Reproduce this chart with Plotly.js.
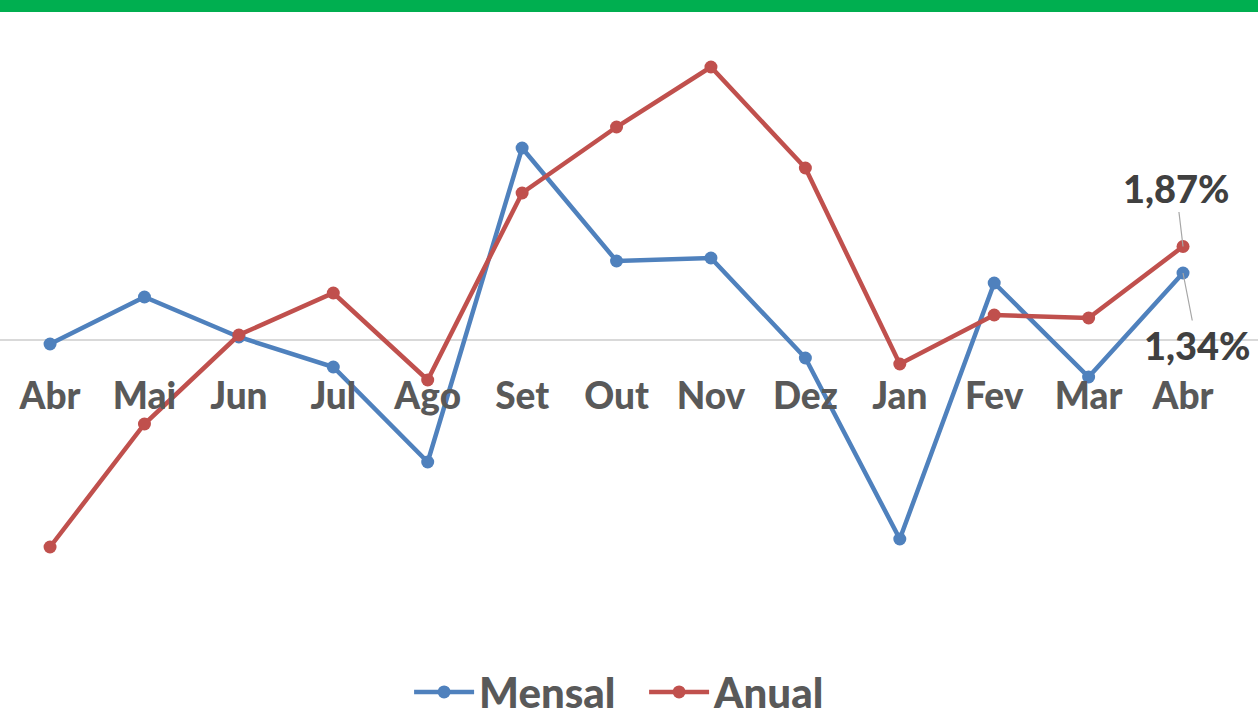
<!DOCTYPE html>
<html>
<head>
<meta charset="utf-8">
<script src="https://cdn.plot.ly/plotly-3.0.1.min.js"></script>
<style>html,body{margin:0;padding:0;background:#fff;}#chart{width:1258px;height:718px;}</style>
</head>
<body>
<div id="chart"></div>
<script>
const months = ["Abr","Mai","Jun","Jul","Ago","Set","Out","Nov","Dez","Jan","Fev","Mar","Abr"];
const mensal = [-0.08, 0.86, 0.06, -0.54, -2.44, 3.84, 1.58, 1.64, -0.36, -3.98, 1.14, -0.74, 1.34];
const anual  = [-4.14, -1.68, 0.10, 0.94, -0.80, 2.94, 4.26, 5.46, 3.44, -0.48, 0.50, 0.44, 1.87];

const idx = months.map((_, i) => i);
const last = months.length - 1;
const fmt = v => v.toFixed(2).replace('.', ',') + '%';

const BLUE = '#4F81BD', RED = '#C0504D';
const traces = [
  {x: idx, y: mensal, name: 'Mensal', type: 'scatter', mode: 'lines+markers',
   line: {color: BLUE, width: 4.5}, marker: {color: BLUE, size: 13}},
  {x: idx, y: anual, name: 'Anual', type: 'scatter', mode: 'lines+markers',
   line: {color: RED, width: 4.5}, marker: {color: RED, size: 13}}
];

const yMin = -7.56, yMax = 6.8;
const zeroPos = (0 - yMin) / (yMax - yMin);

const layout = {
  width: 1258, height: 718,
  margin: {l: 0, r: 0, t: 0, b: 0, autoexpand: false},
  paper_bgcolor: '#fff', plot_bgcolor: '#fff',
  font: {family: 'Lato, sans-serif', color: '#595959'},
  showlegend: true,
  legend: {orientation: 'h', x: 0.512, xanchor: 'center', y: 0.036, yanchor: 'middle',
           font: {size: 42, weight: 900, color: '#595959', family: 'Lato'}, itemwidth: 60,
           entrywidth: 160},
  xaxis: {range: [-0.53, 12.794], tickvals: idx, ticktext: months, anchor: 'free', position: zeroPos,
          showgrid: false, zeroline: false, showline: false, ticks: 'outside', ticklen: 24,
          tickcolor: 'rgba(0,0,0,0)', tickfont: {size: 37, weight: 900, color: '#595959', family: 'Lato'}},
  yaxis: {range: [yMin, yMax], showgrid: false, showticklabels: false, zeroline: true,
          zerolinecolor: '#D9D9D9', zerolinewidth: 1.5, showline: false},
  shapes: [{type: 'rect', xref: 'paper', yref: 'paper', x0: 0, x1: 1, y0: 1 - 12/718, y1: 1,
            fillcolor: '#00AF50', line: {width: 0}}],
  annotations: [
    {x: last, y: anual[last], text: fmt(anual[last]), showarrow: true, arrowhead: 0, arrowwidth: 1.2,
     arrowcolor: '#A6A6A6', ax: -7, ay: -59, standoff: 0,
     font: {size: 38, weight: 900, color: '#404040', family: 'Lato'}},
    {x: last, y: mensal[last], text: fmt(mensal[last]), showarrow: true, arrowhead: 0, arrowwidth: 1.2,
     arrowcolor: '#A6A6A6', ax: 14, ay: 72, standoff: 0,
     font: {size: 38, weight: 900, color: '#404040', family: 'Lato'}}
  ]
};

Plotly.newPlot('chart', traces, layout, {displayModeBar: false, staticPlot: true});
</script>
</body>
</html>
